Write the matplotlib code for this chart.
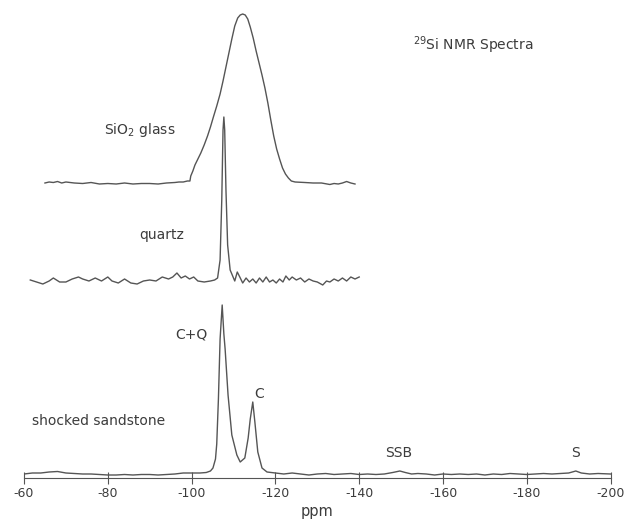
import matplotlib
matplotlib.use("Agg")
import matplotlib.pyplot as plt

# 29Si NMR spectra, heights (arbitrary units ~ pixels)
glass_ppm = [-65, -66, -67, -68, -69, -70, -72, -74, -76, -78, -80, -82, -84, -86,
             -88, -90, -92, -94, -96, -97, -98, -99, -99.6, -99.8, -100.3, -100.8,
             -101.5, -102.2, -103, -103.8, -104.5, -105.2, -106, -106.8, -107.5,
             -108.2, -108.9, -109.6, -110.3, -111, -111.6, -112.2, -112.8, -113.4,
             -114.0, -114.7, -115.4, -116.1, -116.8, -117.5, -118.2, -118.9, -119.6,
             -120.3, -121, -121.7, -122.4, -123.1, -123.8, -124.7, -127, -129,
             -131, -133, -134, -135, -136, -137, -138, -139]
glass_int = [0, 1, 0.5, 1.5, 0, 1, 0, -0.5, 0.5, -1, -0.5, -1, 0, -1,
             -0.5, -0.5, -1, 0, 0.5, 1, 1, 2, 2, 7, 12, 18,
             24, 30, 38, 47, 56, 66, 77, 89, 102,
             116, 130, 144, 157, 165, 168, 169, 168, 164,
             156, 145, 132, 120, 108, 95, 80, 63, 47,
             34, 24, 15, 9, 5, 2, 1, 0.5, 0,
             0, -1.5, -0.5, -1, 0, 1.5, 0, -1]

quartz_ppm = [-61.5, -63, -64.5, -66, -67, -68.5, -70, -71.5, -73, -74, -75.5, -77,
              -78.5, -80, -81, -82.5, -84, -85.5, -87, -88.5, -90, -91.5, -93, -94.5,
              -95.5, -96.5, -97.5, -98.5, -99.5, -100.5, -101.5, -103, -104.5, -105.5,
              -106.2, -106.8, -107.2, -107.5, -107.7, -107.9, -108.2, -108.6, -109.2,
              -109.8, -110.3, -110.9, -111.5, -112.2, -113, -113.8, -114.6, -115.4,
              -116.2, -117, -117.8, -118.6, -119.4, -120.2, -121, -121.8, -122.5,
              -123.3, -124, -125, -126, -127, -128, -129, -130, -131.3, -132.2, -133,
              -134, -135, -136, -137, -138, -139, -140]
quartz_int = [0, -2, -4, -1, 2, -2, -2, 1, 3, 1, -1, 2,
              -1, 3, -1, -3, 1, -3, -4, -1, 0, -1, 3, 1,
              3, 7, 2, 4, 1, 3, -1, -2, -1, 0,
              2, 20, 80, 150, 163, 150, 90, 35, 10,
              4, -1, 8, 3, -3, 2, -2, 1, -3,
              2, -2, 3, -2, 0, -3, 1, -2, 4,
              0, 3, 0, 2, -2, 1, -1, -2, -5, -1, -2,
              1, -1, 2, -1, 3, 1, 3]

sand_ppm = [-60, -62, -64, -66, -68, -70, -72, -74, -76, -78, -80, -82, -84, -86,
            -88, -90, -92, -94, -96, -98, -100, -102, -103.5, -104.5, -105.1, -105.7,
            -106.0, -106.4, -106.8, -107.3, -107.7, -108.0, -108.7, -109.6, -110.8,
            -111.6, -112.7, -113.5, -114.0, -114.6, -115.1, -115.8, -116.8, -118,
            -120, -122, -124, -126, -128, -130, -132, -134, -136, -138, -140, -142,
            -144, -146, -148, -149.7, -151, -152.5, -154, -156, -158, -160, -162,
            -164, -166, -168, -170, -172, -174, -176, -178, -180, -182, -184, -186,
            -188, -190, -191.7, -193, -195, -197, -200]
sand_int = [0, 1, 1, 2, 2.5, 1, 0.5, 0, 0, -0.5, -1, -1, -0.5, -1,
            -0.5, -0.5, -1, -0.5, 0, 1, 1, 1, 1.5, 3, 6, 15,
            30, 75, 135, 169, 140, 125, 79, 39, 19,
            12, 16, 36, 55, 72, 52, 22, 6, 2,
            1, 0, 1, 0, -1, 0, 0.5, -0.5, 0, 0.5, -0.5, 0,
            -0.5, 0, 1.5, 3, 1.5, 0, 0.5, 0, -1, 0, -0.5,
            0, -0.5, 0, -1, 0, -0.5, 0.5, 0, -0.5, 0, 0.5, 0,
            0.5, 1, 3, 1, 0, 0.5, 0]

xticks = [-60, -80, -100, -120, -140, -160, -180, -200]

line_col = "#555555"
text_col = "#3c3c3c"

fig = plt.figure(figsize=(6.25, 5.29), dpi=100, facecolor="white")
ax = fig.add_axes([24 / 625, 51 / 529, 586.6 / 625, 478 / 529])

# stack the traces: offsets are the baselines of each spectrum
ax.plot(sand_ppm, [v + 4 for v in sand_int], color=line_col, lw=1.0)
ax.plot(quartz_ppm, [v + 198 for v in quartz_int], color=line_col, lw=1.0)
ax.plot(glass_ppm, [v + 295 for v in glass_int], color=line_col, lw=1.0)

ax.set_xlim(-60, -200)
ax.set_ylim(0, 478)
ax.set_facecolor("white")
for s in ["top", "left", "right"]:
    ax.spines[s].set_visible(False)
ax.spines["bottom"].set_color(line_col)
ax.spines["bottom"].set_linewidth(0.8)
ax.set_yticks([])
ax.set_xticks(xticks)
ax.set_xticklabels([str(t) for t in xticks])
ax.tick_params(axis="x", direction="inout", length=9, width=0.8, color=line_col,
               labelcolor=text_col, labelsize=9, pad=2)
ax.set_xlabel("ppm", fontsize=10.5, color=text_col, labelpad=3)

# labels
kw = dict(color=text_col, fontsize=10, va="center")
ax.text(0.663, 0.906, r"$^{29}$Si NMR Spectra", transform=ax.transAxes, ha="left", **kw)
ax.text(-79.2, 478 - 130, r"SiO$_2$ glass", ha="left", **kw)
ax.text(-87.5, 478 - 235, "quartz", ha="left", **kw)
ax.text(-96.0, 478 - 334, "C+Q", ha="left", **kw)
ax.text(-115.0, 478 - 394, "C", ha="left", **kw)
ax.text(-61.8, 478 - 421, "shocked sandstone", ha="left", **kw)
ax.text(-149.5, 478 - 453, "SSB", ha="center", **kw)
ax.text(-191.7, 478 - 453, "S", ha="center", **kw)

fig.savefig("out.png", dpi=100, facecolor="white")
